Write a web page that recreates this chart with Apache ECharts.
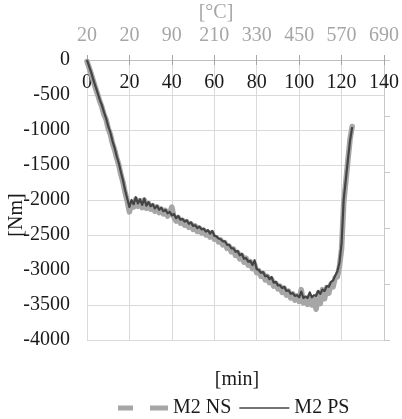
<!DOCTYPE html>
<html>
<head>
<meta charset="utf-8">
<script src="https://cdn.jsdelivr.net/npm/echarts@6/dist/echarts.min.js"></script>
<style>html,body{margin:0;padding:0;background:#fff}#c{width:402px;height:419px}</style>
</head>
<body>
<div id="c"></div>
<script>
var minutes = [0,1,2,3,4,5,6,7,8,9,10,11,12,13,14,15,16,17,18,19,20,21,22,23,24,25,26,27,28,29,30,31,32,33,34,35,36,37,38,39,40,41,42,43,44,45,46,47,48,49,50,51,52,53,54,55,56,57,58,59,60,61,62,63,64,65,66,67,68,69,70,71,72,73,74,75,76,77,78,79,80,81,82,83,84,85,86,87,88,89,90,91,92,93,94,95,96,97,98,99,100,101,102,103,104,105,106,107,108,109,110,111,112,113,114,115,116,117,118,119,120,121,122,123,124,125];
var m2NS = [-20,-110,-200,-300,-400,-490,-590,-670,-780,-850,-980,-1060,-1190,-1280,-1400,-1500,-1640,-1750,-1900,-2020,-2170,-2040,-2100,-1990,-2090,-2010,-2110,-2000,-2120,-2050,-2130,-2080,-2160,-2100,-2180,-2130,-2200,-2150,-2230,-2190,-2100,-2250,-2300,-2250,-2330,-2290,-2360,-2310,-2390,-2340,-2420,-2370,-2450,-2400,-2470,-2430,-2500,-2460,-2530,-2470,-2560,-2540,-2600,-2570,-2640,-2610,-2690,-2660,-2740,-2700,-2790,-2750,-2840,-2790,-2890,-2830,-2930,-2880,-2980,-2920,-3040,-3010,-3090,-3050,-3140,-3090,-3180,-3130,-3230,-3190,-3270,-3230,-3320,-3260,-3360,-3300,-3400,-3340,-3430,-3370,-3450,-3280,-3470,-3400,-3490,-3380,-3500,-3420,-3560,-3330,-3480,-3280,-3410,-3250,-3330,-3200,-3240,-3110,-3100,-2950,-2700,-2050,-1740,-1430,-1130,-950];
var m2PS = [0,-90,-180,-285,-375,-470,-565,-645,-745,-835,-945,-1035,-1155,-1255,-1375,-1475,-1605,-1725,-1865,-1985,-2100,-2000,-2060,-1960,-2050,-1990,-2070,-1980,-2080,-2030,-2090,-2060,-2120,-2080,-2140,-2110,-2160,-2140,-2190,-2170,-2220,-2200,-2260,-2230,-2280,-2270,-2310,-2290,-2340,-2320,-2370,-2360,-2400,-2380,-2420,-2410,-2450,-2430,-2480,-2440,-2510,-2520,-2550,-2560,-2590,-2590,-2640,-2640,-2690,-2690,-2740,-2730,-2790,-2770,-2840,-2830,-2880,-2870,-2930,-2860,-2990,-3000,-3040,-3030,-3090,-3080,-3130,-3100,-3180,-3170,-3220,-3220,-3260,-3240,-3300,-3290,-3340,-3330,-3370,-3360,-3390,-3310,-3400,-3380,-3400,-3320,-3390,-3360,-3370,-3300,-3340,-3280,-3300,-3230,-3240,-3170,-3150,-3080,-3020,-2900,-2620,-1990,-1710,-1420,-1150,-960];
var minuteTicks = [0,20,40,60,80,100,120,140];
var tempLabels = ['20','20','90','210','330','450','570','690'];
var torqueTicks = [0,-500,-1000,-1500,-2000,-2500,-3000,-3500,-4000];

function pairs(xs, ys){ var out=[]; for (var i=0;i<xs.length;i++) out.push([xs[i], ys[i]]); return out; }

var FONT = 'Liberation Serif';
var richBlack = {t: {fontFamily: FONT, fontSize: 20, color: '#1a1a1a'}};
var richGray = {t: {fontFamily: FONT, fontSize: 20, color: '#a6a6a6'}};
var chart = echarts.init(document.getElementById('c'), null, {renderer:'canvas'});
chart.setOption({
  animation: false,
  backgroundColor: '#ffffff',
  textStyle: {fontFamily: FONT},
  grid: {left: 87, right: 15, top: 60, bottom: 79, containLabel: false},
  xAxis: [
    {
      type: 'value', position: 'bottom', offset: -280, min: minuteTicks[0], max: minuteTicks[minuteTicks.length-1], interval: 20,
      axisLine: {show: true, onZero: false, lineStyle: {color: '#bfbfbf', width: 1}},
      axisTick: {show: true, length: 5, lineStyle: {color: '#a6a6a6'}},
      axisLabel: {color: '#1a1a1a', fontFamily: FONT, fontSize: 20, margin: 13, rich: richBlack,
        formatter: function(v){ return '{t|' + String(v) + '}'; }},
      splitLine: {show: true, lineStyle: {color: '#d9d9d9', width: 1}}
    },
    {
      type: 'value', position: 'top', min: minuteTicks[0], max: minuteTicks[minuteTicks.length-1], interval: 20,
      axisLine: {show: true, onZero: false, lineStyle: {color: '#bfbfbf', width: 1}},
      axisTick: {show: true, length: 5, lineStyle: {color: '#a6a6a6'}},
      axisLabel: {color: '#a6a6a6', fontFamily: FONT, fontSize: 20, margin: 14, rich: richGray,
        formatter: function(v){ var i = minuteTicks.indexOf(v); return i>=0 ? '{t|' + tempLabels[i] + '}' : ''; }},
      splitLine: {show: false}
    }
  ],
  yAxis: [
    {
      type: 'value', min: torqueTicks[torqueTicks.length-1], max: torqueTicks[0], interval: 500,
      axisLine: {show: false}, axisTick: {show: false},
      axisLabel: {color: '#1a1a1a', fontFamily: FONT, fontSize: 20, margin: 17, rich: richBlack,
        formatter: function(v){ return '{t|' + String(v) + '}'; }},
      splitLine: {show: true, lineStyle: {color: '#d9d9d9', width: 1}}
    },
    {
      type: 'value', position: 'right', min: 0, max: 5, interval: 1,
      axisLine: {show: true, onZero: false, lineStyle: {color: '#c8c8c8', width: 1}},
      axisTick: {show: true, length: 6, lineStyle: {color: '#c8c8c8'}},
      axisLabel: {show: false}, splitLine: {show: false}
    }
  ],
  legend: {
    left: 113, top: 393, itemWidth: 50, itemHeight: 14, itemGap: 8, symbolKeepAspect: true,
    textStyle: {color: '#1a1a1a', fontFamily: FONT, fontSize: 20},
    data: [
      {name: 'M2 NS', icon: 'path://M0,0h15v5h-15z M32,0h18v5h-18z'},
      {name: 'M2 PS', icon: 'path://M0,0h50v1.6h-50z'}
    ]
  },
  graphic: [
    {type: 'text', x: 216, y: 13, style: {text: '[°C]', fontFamily: FONT, fontSize: 20, fill: '#a6a6a6', textAlign: 'center', textVerticalAlign: 'middle'}},
    {type: 'text', x: 237, y: 380, style: {text: '[min]', fontFamily: FONT, fontSize: 20, fill: '#1a1a1a', textAlign: 'center', textVerticalAlign: 'middle'}},
    {type: 'text', x: 17, y: 215, rotation: Math.PI/2, style: {text: '[Nm]', fontFamily: FONT, fontSize: 20, fill: '#1a1a1a', textAlign: 'center', textVerticalAlign: 'middle'}}
  ],
  series: [
    {name: 'M2 NS', type: 'line', xAxisIndex: 0, yAxisIndex: 0, data: pairs(minutes, m2NS), symbol: 'none', showSymbol: false,
      lineStyle: {color: '#a6a6a6', width: 5.5, join: 'round', cap: 'round'}, itemStyle: {color: '#a6a6a6'}, z: 2},
    {name: 'M2 PS', type: 'line', xAxisIndex: 0, yAxisIndex: 0, data: pairs(minutes, m2PS), symbol: 'none', showSymbol: false,
      lineStyle: {color: '#444444', width: 2.2, join: 'round'}, itemStyle: {color: '#444444'}, z: 3}
  ]
});
</script>
</body>
</html>
